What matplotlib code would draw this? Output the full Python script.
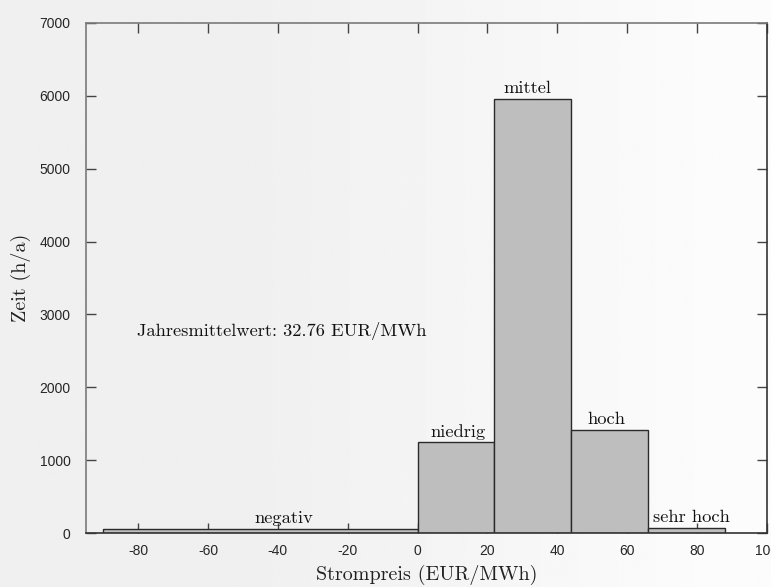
import numpy as np
import matplotlib
matplotlib.use("Agg")
import matplotlib.pyplot as plt

# Price bands (EUR/MWh) and hours per year in each band
bin_edges = [-90, 0, 22, 44, 66, 88]
hours = [55, 1245, 5950, 1420, 75]
band_names = ["negativ", "niedrig", "mittel", "hoch", "sehr hoch"]
mean_price = 32.76

x_ticks = [-80, -60, -40, -20, 0, 20, 40, 60, 80, 100]
y_ticks = [0, 1000, 2000, 3000, 4000, 5000, 6000, 7000]

# label placement tweaks relative to bin centres
label_dx = [6.7, 0.5, -1.5, -1.0, 1.6]
label_dy = 80

W, H = 771, 587
fig = plt.figure(figsize=(W / 100, H / 100), dpi=100)

# soft horizontal background shading
bg = fig.add_axes([0, 0, 1, 1], zorder=-10)
xs = np.linspace(0, 1, 400)
shade = 240 + 12 * np.clip((xs - 0.35) / 0.6, 0, 1)
bg.imshow(np.tile(shade / 255.0, (2, 1)), cmap="gray", vmin=0, vmax=1,
          aspect="auto", extent=[0, 1, 0, 1])
bg.set_axis_off()

ax = fig.add_axes([86 / W, 1 - 533.3 / H, (766.5 - 86) / W, (533.3 - 22.7) / H])
ax.set_facecolor("none")

edges = np.array(bin_edges, dtype=float)
widths = np.diff(edges)
ax.bar(edges[:-1], hours, width=widths, align="edge",
       color="#bebebe", edgecolor="#2a2a2a", linewidth=1.0, zorder=2)

serif = "cmr10"
centers = edges[:-1] + widths / 2
for c, h, name, dx in zip(centers, hours, band_names, label_dx):
    ax.text(c + dx, h + label_dy, name, ha="center", va="baseline",
            family=serif, fontsize=13.3, color="#111111")

ax.text(-80.5, 2700, f"Jahresmittelwert: {mean_price:.2f} EUR/MWh",
        ha="left", va="baseline", family=serif, fontsize=13.3, color="#111111")

ax.set_xlim(-95, 100)
ax.set_ylim(0, 7000)
ax.set_xticks(x_ticks)
ax.set_yticks(y_ticks)
ax.set_xticklabels([str(t) for t in x_ticks])
ax.set_yticklabels([str(t) for t in y_ticks])

ax.tick_params(axis="both", which="major", direction="in", length=7, width=1,
               top=True, right=True, colors="#444444", labelcolor="#262626",
               labelsize=10, pad=8)
for lbl in ax.get_xticklabels() + ax.get_yticklabels():
    lbl.set_family("Liberation Sans")
ax.tick_params(axis="y", pad=11)

for side in ["left", "top"]:
    ax.spines[side].set_color("#7a7a7a")
for side in ["right", "bottom"]:
    ax.spines[side].set_color("#333333")
for sp in ax.spines.values():
    sp.set_linewidth(1.2)

ax.set_xlabel("Strompreis (EUR/MWh)", family=serif, fontsize=14.5,
              color="#222222", labelpad=5)
ax.set_ylabel("Zeit (h/a)", family=serif, fontsize=14.5,
              color="#222222", labelpad=6)

fig.savefig("out.png", dpi=100)
